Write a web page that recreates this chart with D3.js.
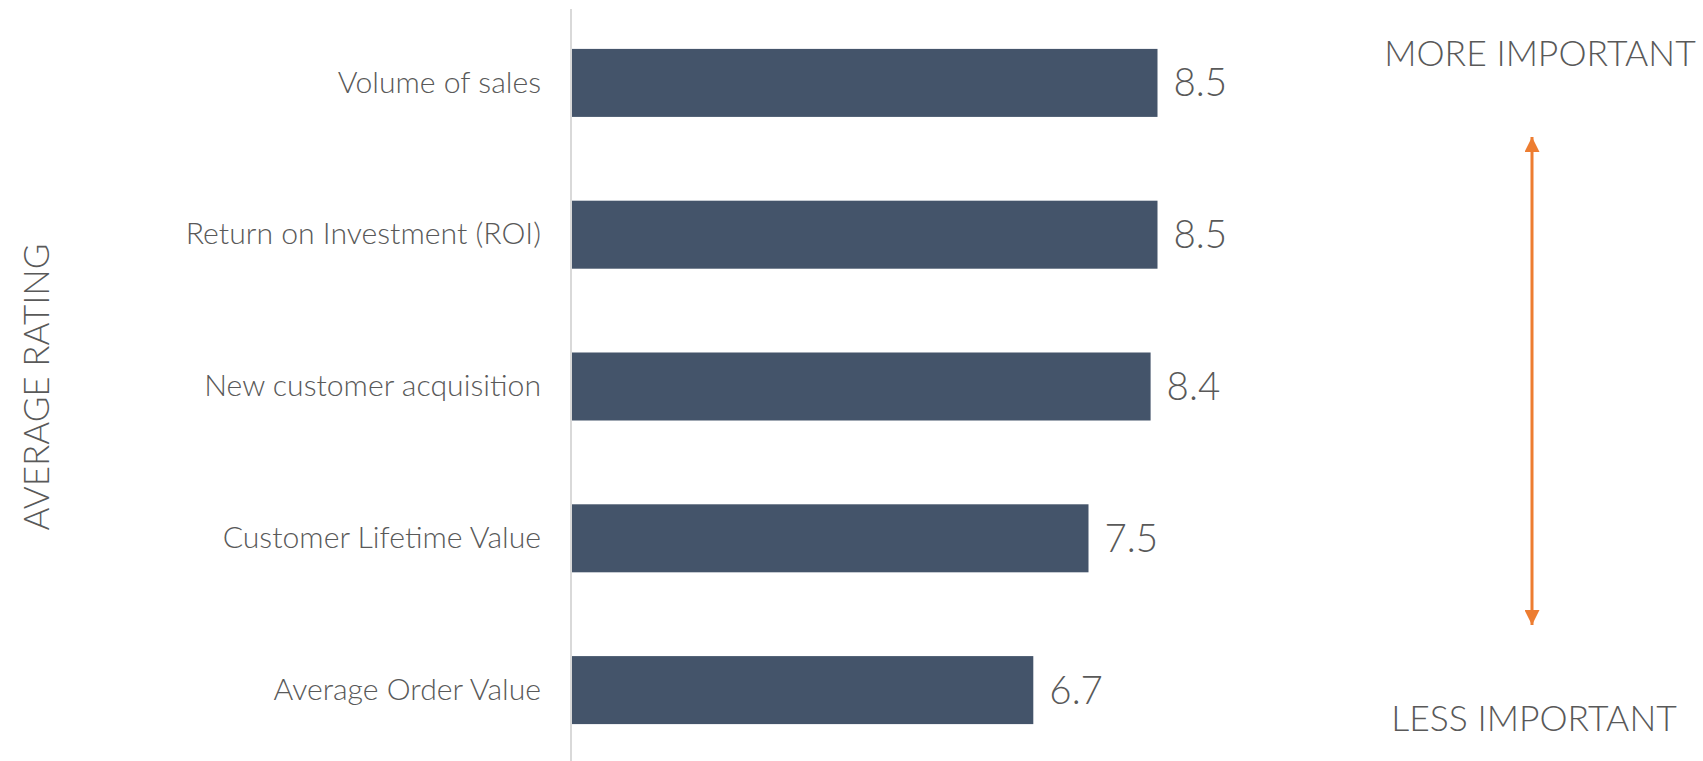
<!DOCTYPE html>
<html>
<head>
<meta charset="utf-8">
<script src="https://cdn.jsdelivr.net/npm/d3@7"></script>
<style>
  html, body { margin: 0; padding: 0; background: #ffffff; }
  svg { display: block; }
  text { font-family: Lato, "Open Sans", sans-serif; fill: #595959; }
</style>
</head>
<body>
<svg id="chart" width="1703" height="761"></svg>
<script>
// Average importance rating per metric
const categories = [
  "Volume of sales",
  "Return on Investment (ROI)",
  "New customer acquisition",
  "Customer Lifetime Value",
  "Average Order Value"
];
const ratings = [8.5, 8.5, 8.4, 7.5, 6.7];

const axisTitle = "AVERAGE RATING";
const topNote = "MORE IMPORTANT";
const bottomNote = "LESS IMPORTANT";

const W = 1703, H = 761;
const svg = d3.select("#chart");

const axisX = 571;
const x = d3.scaleLinear().domain([0, 1]).range([axisX, axisX + 69]);
const y = d3.scaleBand()
  .domain(categories)
  .range([7, 766])
  .paddingInner(0.552)
  .paddingOuter(0.276);

// bars
svg.append("g").selectAll("rect")
  .data(categories)
  .join("rect")
  .attr("x", x(0))
  .attr("y", d => y(d))
  .attr("width", (d, i) => x(ratings[i]) - x(0))
  .attr("height", y.bandwidth())
  .attr("fill", "#44546A");

// category axis (labels only, plus a light baseline)
const yAxis = d3.axisLeft(y).tickSize(0).tickPadding(30);
const gy = svg.append("g")
  .attr("transform", `translate(${axisX},0)`)
  .call(yAxis);
gy.select(".domain").remove();
gy.selectAll("text")
  .attr("font-family", "Lato, sans-serif")
  .attr("font-weight", 300)
  .attr("font-size", 30.2)
  .attr("fill", "#595959");

svg.append("line")
  .attr("x1", axisX).attr("x2", axisX)
  .attr("y1", 9).attr("y2", H)
  .attr("stroke", "#d9d9d9")
  .attr("stroke-width", 2);

// value labels
svg.append("g").selectAll("text")
  .data(categories)
  .join("text")
  .attr("x", (d, i) => x(ratings[i]) + 16)
  .attr("y", d => y(d) + y.bandwidth() / 2)
  .attr("dy", "0.35em")
  .attr("font-weight", 300)
  .attr("font-size", 38.5)
  .text((d, i) => ratings[i].toFixed(1));

// vertical axis title
svg.append("text")
  .attr("transform", "translate(37,387) rotate(-90)")
  .attr("text-anchor", "middle")
  .attr("dy", "0.35em")
  .attr("font-weight", 300)
  .attr("font-size", 35)
  .text(axisTitle);

// importance scale at the right
const arrowX = 1532;
const defs = svg.append("defs");
defs.append("marker")
  .attr("id", "head")
  .attr("viewBox", "0 0 10 10")
  .attr("refX", 10).attr("refY", 5)
  .attr("markerWidth", 5).attr("markerHeight", 5)
  .attr("orient", "auto-start-reverse")
  .attr("markerUnits", "strokeWidth")
  .append("path")
  .attr("d", "M0,0 L10,5 L0,10 Z")
  .attr("fill", "#ED7D31");

svg.append("line")
  .attr("x1", arrowX).attr("x2", arrowX)
  .attr("y1", 137).attr("y2", 625)
  .attr("stroke", "#ED7D31")
  .attr("stroke-width", 3)
  .attr("marker-start", "url(#head)")
  .attr("marker-end", "url(#head)");

svg.append("text")
  .attr("x", 1540).attr("y", 54)
  .attr("text-anchor", "middle")
  .attr("dy", "0.35em")
  .attr("font-weight", 300)
  .attr("font-size", 35.5)
  .text(topNote);

svg.append("text")
  .attr("x", 1534).attr("y", 719)
  .attr("text-anchor", "middle")
  .attr("dy", "0.35em")
  .attr("font-weight", 300)
  .attr("font-size", 35.5)
  .text(bottomNote);
</script>
</body>
</html>
